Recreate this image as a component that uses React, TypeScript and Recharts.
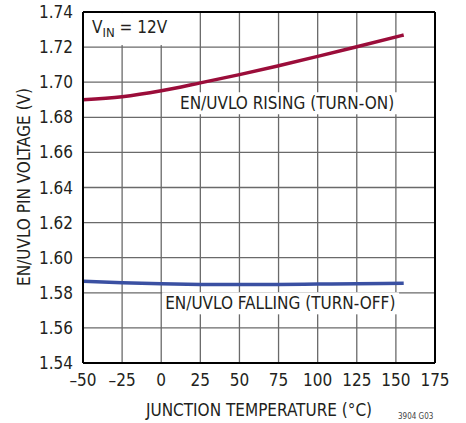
import { LineChart, Line, XAxis, YAxis, CartesianGrid, ReferenceLine, ReferenceDot, Label } from 'recharts';

const temps = [-50, -25, 0, 25, 50, 75, 100, 125, 155];
const rising = [1.69, 1.6917, 1.6951, 1.6996, 1.7043, 1.7094, 1.7147, 1.7202, 1.7269];
const falling = [1.5866, 1.5857, 1.5851, 1.5848, 1.5847, 1.5848, 1.585, 1.5852, 1.5855];
const xTicks = [-50, -25, 0, 25, 50, 75, 100, 125, 150, 175];
const yTicks = [1.54, 1.56, 1.58, 1.6, 1.62, 1.64, 1.66, 1.68, 1.7, 1.72, 1.74];

const data = temps.map((t, i) => ({ t, rising: rising[i], falling: falling[i] }));

const FONT = "'DejaVu Sans Condensed', 'Liberation Sans Narrow', sans-serif";
const INK = '#231f20';

const BoxLabel = ({ cx, cy, text, w }: any) => (
  <g>
    <rect x={cx - 3} y={cy - 11} width={w} height={22} fill="#fff" />
    <text x={cx} y={cy} dy="0.36em" fontFamily={FONT} fontSize={17} fill={INK}>{text}</text>
  </g>
);

const VinLabel = ({ cx, cy }: any) => (
  <g>
    <rect x={cx - 8} y={cy - 20} width={90} height={32} fill="#fff" />
    <text x={cx} y={cy} fontFamily={FONT} fontSize={17} fill={INK}>
      V<tspan fontSize={13} dy={4}>IN</tspan><tspan dy={-4}> = 12V</tspan>
    </text>
  </g>
);

export default function App() {
  return (
    <div style={{ position: 'absolute', left: 0, top: 0 }}>
      <LineChart width={466} height={423} data={data} margin={{ top: 12, right: 31, bottom: 0, left: 0 }}>
        <CartesianGrid stroke="#6a6a6a" strokeWidth={1.3} />
        <XAxis
          dataKey="t"
          type="number"
          domain={[-50, 175]}
          ticks={xTicks}
          height={60}
          tickSize={0}
          tickMargin={11}
          stroke="#000"
          strokeWidth={2}
          tick={{ fill: INK, fontSize: 17, fontFamily: FONT }}
          tickFormatter={(v: number) => String(v).replace('-', '\u2013')}
        >
          <Label value="JUNCTION TEMPERATURE (°C)" position="insideBottom" offset={7} style={{ fill: INK, fontSize: 17, fontFamily: FONT }} />
        </XAxis>
        <YAxis
          type="number"
          domain={[1.54, 1.74]}
          ticks={yTicks}
          width={83}
          tickSize={0}
          tickMargin={10}
          stroke="#000"
          strokeWidth={2}
          tick={{ fill: INK, fontSize: 17, fontFamily: FONT }}
          tickFormatter={(v: number) => v.toFixed(2)}
        >
          <Label
            content={() => (
              <text x={24} y={187} transform="rotate(-90 24 187)" textAnchor="middle" dy="0.36em" fontFamily={FONT} fontSize={17} fill={INK}>
                EN/UVLO PIN VOLTAGE (V)
              </text>
            )}
          />
        </YAxis>
        <ReferenceLine y={1.74} stroke="#000" strokeWidth={2} />
        <ReferenceLine x={175} stroke="#000" strokeWidth={2} />
        <Line dataKey="rising" type="monotone" stroke="#9b0d3a" strokeWidth={3.5} dot={false} isAnimationActive={false} />
        <Line dataKey="falling" type="monotone" stroke="#3a50a2" strokeWidth={3.5} dot={false} isAnimationActive={false} />
        <ReferenceDot x={12} y={1.688} r={0} shape={(p: any) => <BoxLabel {...p} text="EN/UVLO RISING (TURN-ON)" w={220} />} />
        <ReferenceDot x={2.5} y={1.574} r={0} shape={(p: any) => <BoxLabel {...p} text="EN/UVLO FALLING (TURN-OFF)" w={237} />} />
        <ReferenceDot x={-44.2} y={1.728} r={0} shape={(p: any) => <VinLabel {...p} />} />
      </LineChart>
      <div style={{ position: 'absolute', left: 398, top: 412, fontSize: 8, lineHeight: '9px', fontFamily: FONT, color: '#444' }}>3904 G03</div>
    </div>
  );
}
